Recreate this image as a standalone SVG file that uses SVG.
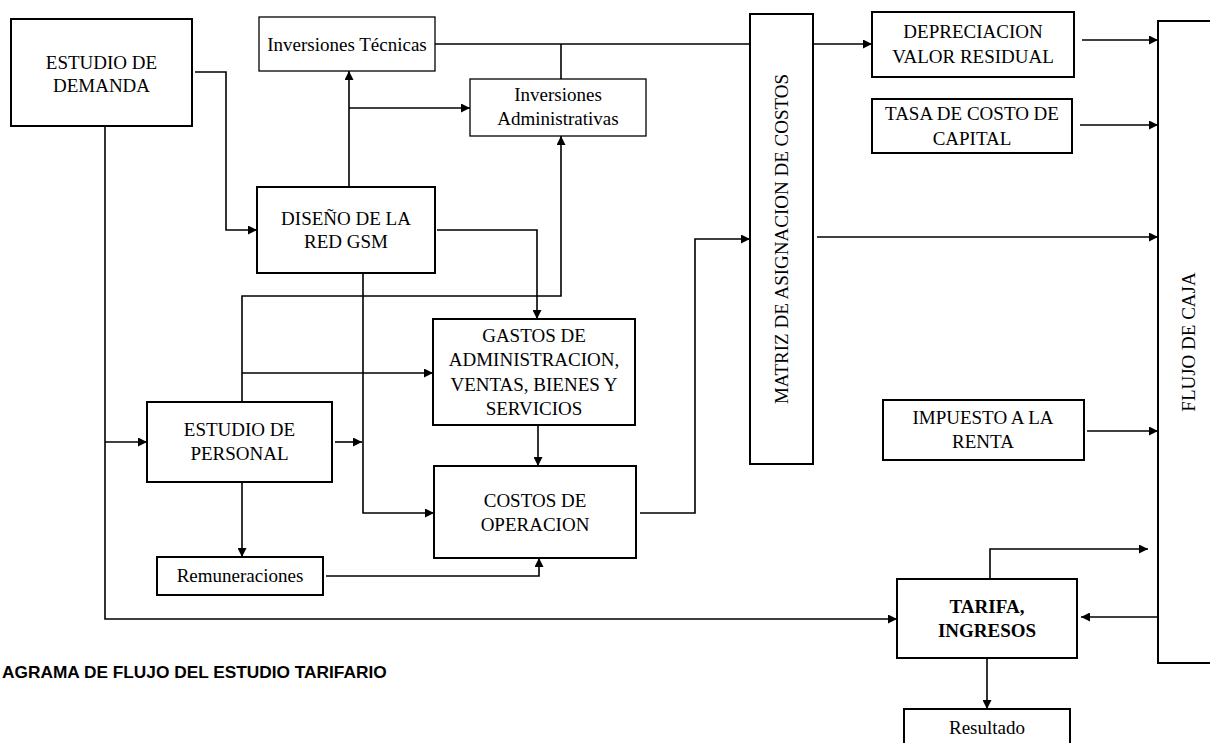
<svg xmlns="http://www.w3.org/2000/svg" width="1210" height="743" viewBox="0 0 1210 743">
<style>
.box{fill:#fff;stroke:#000;stroke-width:2}
.thin{fill:#fff;stroke:#000;stroke-width:1.3}
.t{font-family:"Liberation Serif","Times New Roman",serif;font-size:19px;fill:#000;text-anchor:middle}
.b{font-weight:bold}
.c{fill:none;stroke:#000;stroke-width:1.6}
.cap{font-family:"Liberation Sans",Arial,sans-serif;font-size:17.3px;font-weight:bold;fill:#000}
</style>
<defs>
<marker id="ah" markerUnits="userSpaceOnUse" markerWidth="10" markerHeight="9" refX="9" refY="4.5" orient="auto">
<path d="M0,0 L9,4.5 L0,9 z" fill="#000"/>
</marker>
</defs>
<g id="connectors">
<path class="c" d="M195,72 H226 V230 H257" marker-end="url(#ah)"/>
<path class="c" d="M349,187 V71" marker-end="url(#ah)"/>
<path class="c" d="M349,108 H470" marker-end="url(#ah)"/>
<path class="c" d="M435,44 H872" marker-end="url(#ah)"/>
<path class="c" d="M561,44 V79"/>
<path class="c" d="M242,402 V296 H561 V136" marker-end="url(#ah)"/>
<path class="c" d="M242,373 H433" marker-end="url(#ah)"/>
<path class="c" d="M437,230 H537 V319" marker-end="url(#ah)"/>
<path class="c" d="M363,273 V513 H434" marker-end="url(#ah)"/>
<path class="c" d="M538,425 V466" marker-end="url(#ah)"/>
<path class="c" d="M640,513 H695 V239 H750" marker-end="url(#ah)"/>
<path class="c" d="M817,237 H1158" marker-end="url(#ah)"/>
<path class="c" d="M1082,40 H1158" marker-end="url(#ah)"/>
<path class="c" d="M1080,125 H1158" marker-end="url(#ah)"/>
<path class="c" d="M1087,431 H1158" marker-end="url(#ah)"/>
<path class="c" d="M990,579 V549 H1148" marker-end="url(#ah)"/>
<path class="c" d="M1158,617 H1081" marker-end="url(#ah)"/>
<path class="c" d="M987,658 V709" marker-end="url(#ah)"/>
<path class="c" d="M105,126 V619 H897" marker-end="url(#ah)"/>
<path class="c" d="M105,442 H147" marker-end="url(#ah)"/>
<path class="c" d="M335,442 H362" marker-end="url(#ah)"/>
<path class="c" d="M242,482 V557" marker-end="url(#ah)"/>
<path class="c" d="M326,576 H539 V558" marker-end="url(#ah)"/>
</g>
<g id="demanda"><rect class="box" x="11" y="19" width="181" height="107"/>
<text class="t" x="101.5" y="69">ESTUDIO DE</text><text class="t" x="101.5" y="92">DEMANDA</text></g>
<g id="invtec"><rect class="thin" x="259" y="17" width="176" height="54"/>
<text class="t" x="347" y="51">Inversiones Técnicas</text></g>
<g id="invadm"><rect class="thin" x="470" y="79" width="176" height="57"/>
<text class="t" x="558" y="101">Inversiones</text><text class="t" x="558" y="125">Administrativas</text></g>
<g id="diseno"><rect class="box" x="257" y="187" width="178" height="86"/>
<text class="t" x="346" y="225">DISEÑO DE LA</text><text class="t" x="346" y="248">RED GSM</text></g>
<g id="matriz"><rect class="box" x="750" y="14" width="63" height="450"/>
<text class="t" transform="translate(788,239) rotate(-90)">MATRIZ DE ASIGNACION DE COSTOS</text></g>
<g id="depreciacion"><rect class="box" x="872" y="12" width="202" height="65"/>
<text class="t" x="973" y="38">DEPRECIACION</text><text class="t" x="973" y="63">VALOR RESIDUAL</text></g>
<g id="tasa"><rect class="box" x="872" y="99" width="200" height="54"/>
<text class="t" x="972" y="120">TASA DE COSTO DE</text><text class="t" x="972" y="145">CAPITAL</text></g>
<g id="flujo"><rect class="box" x="1158" y="21" width="70" height="642"/>
<text class="t" transform="translate(1195,342) rotate(-90)">FLUJO DE CAJA</text></g>
<g id="gastos"><rect class="box" x="433" y="319" width="202" height="106"/>
<text class="t" x="534" y="342">GASTOS DE</text><text class="t" x="534" y="366">ADMINISTRACION,</text><text class="t" x="534" y="391">VENTAS, BIENES Y</text><text class="t" x="534" y="415">SERVICIOS</text></g>
<g id="costos"><rect class="box" x="434" y="466" width="202" height="92"/>
<text class="t" x="535" y="507">COSTOS DE</text><text class="t" x="535" y="531">OPERACION</text></g>
<g id="personal"><rect class="box" x="147" y="402" width="185" height="80"/>
<text class="t" x="239.5" y="436">ESTUDIO DE</text><text class="t" x="239.5" y="460">PERSONAL</text></g>
<g id="remuneraciones"><rect class="box" x="157" y="557" width="166" height="38"/>
<text class="t" x="240" y="582">Remuneraciones</text></g>
<g id="impuesto"><rect class="box" x="883" y="400" width="201" height="60"/>
<text class="t" x="983" y="424">IMPUESTO A LA</text><text class="t" x="983" y="448">RENTA</text></g>
<g id="tarifa"><rect class="box" x="897" y="579" width="180" height="79"/>
<text class="t b" x="987" y="613">TARIFA,</text><text class="t b" x="987" y="637">INGRESOS</text></g>
<g id="resultado"><rect class="box" x="904" y="709" width="166" height="50"/>
<text class="t" x="987" y="734">Resultado</text></g>
<text class="cap" x="2" y="678">AGRAMA DE FLUJO DEL ESTUDIO TARIFARIO</text>
</svg>
